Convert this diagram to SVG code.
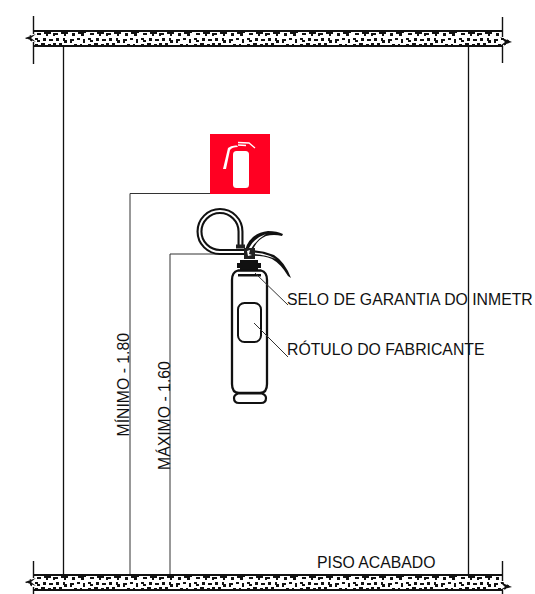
<svg xmlns="http://www.w3.org/2000/svg" width="535" height="594" viewBox="0 0 535 594">
<style>
.l{fill:none;stroke:#111;stroke-width:1.3}
.d{fill:none;stroke:#333;stroke-width:1}
.t{font-family:"Liberation Sans",Arial,sans-serif;font-size:15.8px;fill:#111}
.edge{fill:none;stroke:#111;stroke-width:2}
.tick{fill:none;stroke:#111;stroke-width:1.4}
</style>
<defs>
<pattern id="grit" width="53" height="16" patternUnits="userSpaceOnUse">
<rect width="53" height="16" fill="#fff"/>
<path fill="#111" d="M0 1h5v2h-3v1h-2zM8 0h7v2h-2v2h-2v-2h-3zM19 1h3v3h-3zM25 0h8v1h-2v3h-3v-2h-3zM37 1h4v2h-4zM44 0h7v2h-3v2h-2v-2h-2zM3 6h3v3h-3zM10 6h2v2h2v3h-3v-2h-1zM17 7h4v2h-2v2h-2zM24 6h3v2h-3zM30 7h2v4h-2zM35 6h3v2h2v2h-3v-2h-2zM43 6h3v3h-3zM49 7h4v2h-4zM0 11h3v2h-3zM6 11h3v3h-3zM14 13h4v3h-4zM21 12h3v3h-3zM27 12h2v2h3v2h-5zM35 12h3v2h-3zM41 11h4v2h-2v3h-3v-2h1zM48 12h3v4h-3zM1 15h4v1h-4zM10 15h3v1h-3z"/>
</pattern>
</defs>
<rect width="535" height="594" fill="#fff"/>
<g id="walls">
<path class="l" d="M63.5 46V574M468.5 46V574"/>
</g>
<g id="slab-top">
<path fill="url(#grit)" d="M33 31H503V37L512 42L503 46H33V42L25 38L33 34Z"/>
<path class="edge" d="M33 31H503M33 46H503"/>
<path class="tick" d="M33.500 16V34M33.500 42V64M502.500 17V37M502.500 46V63"/>
<path fill="#111" d="M25 38L36 34L31 38L36 42ZM512 42L500 37L505 42L500 46Z"/>
</g>
<g id="slab-bottom">
<path fill="url(#grit)" d="M33 575H503V582L512 587L503 590H33V587L25 582L33 578Z"/>
<path class="edge" d="M33 575H503M33 590H503"/>
<path class="tick" d="M33.500 561V578M33.500 587V594M502.500 561V581M502.500 590V594"/>
<path fill="#111" d="M25 582L36 578L31 582L36 586ZM512 587L500 582L505 587L500 590Z"/>
</g>
<g id="dimensions">
<path class="d" d="M130 574V193.500H210M170 574V254H238"/>
<text class="t" transform="translate(129 436.500) rotate(-90)">MÍNIMO - 1.80</text>
<text class="t" transform="translate(169.500 470) rotate(-90)">MÁXIMO - 1.60</text>
</g>
<g id="sign">
<rect x="210" y="134" width="60" height="60" fill="#ff0022"/>
<rect x="233" y="151" width="16" height="37" rx="3.500" fill="#fff"/>
<path fill="#fff" d="M223 169L228 148Q231 145 237 145.500L238 147Q232 147 230 150L226 169Z"/>
<path fill="none" stroke="#fff" stroke-width="1.300" d="M238 142.500L249 143L255 148M238 145L246 145.500"/>
</g>
<g id="extinguisher">
<g id="hose" fill="none">
<path stroke="#111" stroke-width="6" d="M244 252H220A20.500 20.500 0 1 1 240.500 231.500V246"/>
<path stroke="#fff" stroke-width="1.800" d="M244 252H220A20.500 20.500 0 1 1 240.500 231.500V246"/>
</g>
<path fill="#111" d="M245 250Q250 233 268 231Q277 231 283 234L282 236Q274 234 266 236Q256 240 252 252Z"/>
<path fill="#fff" d="M249 248Q254 238 266 234Q256 240 251 249Z"/>
<path fill="#111" d="M250 250Q262 250 274 255Q285 262 291 278L288 276Q281 264 272 259Q262 255 250 256Z"/>
<path fill="#fff" d="M254 252.500Q266 253 276 259Q266 255 254 254Z"/>
<path fill="#222" d="M236 244.500H245V248.500H236ZM244 248H255V259H244Z"/>
<path fill="#fff" d="M247 251L250 250L249 254L252 255L248 256Z"/>
<path fill="#111" d="M240 260H258V263H261V268H258V270H240V268H237V263H240Z"/>
<path fill="#fff" stroke="#111" stroke-width="2.300" d="M238 270.500H261Q267 272 267 280V384Q267 393 260 393H239Q232 393 232 384V280Q232 272 238 270.500Z"/>
<path fill="#111" d="M238 274H261V276.500H238Z"/>
<path fill="#fff" stroke="#111" stroke-width="2.200" d="M238 393.500H262Q266 395 266 398Q266 403 261 403H239Q234 403 234 398Q234 395 238 393.500Z"/>
<rect x="238" y="303" width="23" height="39" rx="6.500" fill="#fff" stroke="#111" stroke-width="2"/>
</g>
<g id="label-selo">
<path class="d" d="M255 273L288 305"/>
<text class="t" x="287" y="305">SELO DE GARANTIA DO INMETR</text>
</g>
<g id="label-rotulo">
<path class="d" d="M254 323L288 357"/>
<text class="t" x="287" y="355">RÓTULO DO FABRICANTE</text>
</g>
<g id="label-piso">
<text class="t" x="317" y="568">PISO ACABADO</text>
</g>
</svg>
